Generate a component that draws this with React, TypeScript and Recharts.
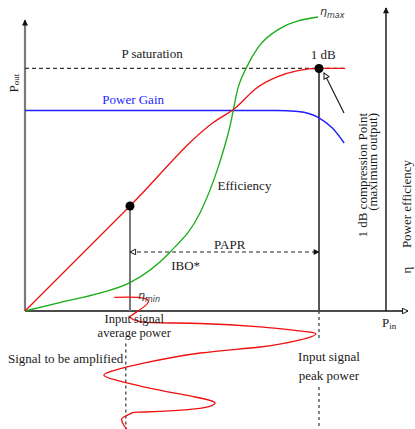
import React from "react";
import { LineChart, Line, XAxis, YAxis, ReferenceLine, ReferenceDot } from "recharts";

// Input power in arbitrary dB-like units, 0 at the axes origin
const AVG_IN = 10;
const PEAK_IN = 28;
const P_SAT = 23.1;

// output power vs input power
const poutIn = [0, 10, 18, 20, 22, 24, 26, 28, 30.5];
const poutVal = [0, 10, 18, 19.3, 21.2, 22.3, 22.9, 23.1, 23.1];

// power gain vs input power
const gainIn = [0, 24, 26, 28, 29.3, 30.4];
const gainVal = [19.1, 19.1, 19.0, 18.4, 17.4, 16.0];

// drain efficiency vs input power
const effIn = [0, 3.3, 7.1, 10, 13.8, 16.7, 18.4, 19.5, 20.3, 21.1, 22.2, 24.1, 27.9];
const effVal = [0, 0.8, 1.7, 2.7, 5.6, 9.4, 13.7, 17.5, 21.3, 23.2, 25.1, 26.8, 28.0];

// instantaneous level of the signal to be amplified, time running downwards
const sigLevel = [8.5, 10.8, 11.7, 10.2, 10.1, 11.4, 16.7, 22.4, 26.2, 27.7, 26.2, 22.4, 16.7, 11.4, 8.6, 7.5, 8.6, 11.4, 16.2, 18.1, 16.2, 11.4, 10.2, 9.4, 9.2, 9.4, 9.7];
const sigTime = [1.3, 1.29, 0.76, -0.38, -0.67, -1.05, -1.19, -1.52, -1.9, -2.19, -2.76, -3.43, -4.0, -4.95, -5.62, -6.1, -6.57, -7.24, -8.19, -8.76, -9.33, -9.62, -9.71, -10.1, -10.38, -10.86, -11.24];

const X_DOMAIN = [-2.381, 37.143];
const Y_DOMAIN = [-11.238, 29.619];
const RIGHT_AXIS = 34.38;

const SERIF = "'Liberation Serif', 'Times New Roman', serif";
const INK = "#1a1a1a";

const pts = (xs: number[], ys: number[]) => xs.map((x, i) => ({ x, y: ys[i] }));

// line with optional arrow markers at either end
const arrowLine = (start?: string, end?: string) => (p: any) => (
  <line
    x1={p.x1} y1={p.y1} x2={p.x2} y2={p.y2}
    stroke={p.stroke} strokeWidth={p.strokeWidth} strokeDasharray={p.strokeDasharray}
    markerStart={start ? `url(#${start})` : undefined}
    markerEnd={end ? `url(#${end})` : undefined}
  />
);

function seg(key: string, a: [number, number], b: [number, number], stroke: string, width: number,
  dash?: string, start?: string, end?: string) {
  return (
    <ReferenceLine
      key={key}
      segment={[{ x: a[0], y: a[1] }, { x: b[0], y: b[1] }]}
      stroke={stroke}
      strokeWidth={width}
      strokeDasharray={dash}
      shape={arrowLine(start, end)}
    />
  );
}

// free text placed at a data position
function note(key: string, x: number, y: number, render: (cx: number, cy: number) => React.ReactNode) {
  return (
    <ReferenceDot
      key={key}
      x={x}
      y={y}
      r={0}
      fill="none"
      stroke="none"
      label={{ content: (p: any) => render(p.viewBox.x, p.viewBox.y) }}
    />
  );
}

const txt = (s: string, opts: { anchor?: string; fill?: string; size?: number } = {}) =>
  (cx: number, cy: number) => (
    <text x={cx} y={cy} textAnchor={opts.anchor ?? "middle"} dominantBaseline="central"
      fontFamily={SERIF} fontSize={opts.size ?? 13} fill={opts.fill ?? INK}>
      {s}
    </text>
  );

const rot = (s: string, anchor = "middle") => (cx: number, cy: number) => (
  <text x={cx} y={cy} textAnchor={anchor} dominantBaseline="central"
    fontFamily={SERIF} fontSize={13} fill={INK} transform={`rotate(-90, ${cx}, ${cy})`}>
    {s}
  </text>
);

const eta = (sub: string) => (cx: number, cy: number) => (
  <text x={cx} y={cy} dominantBaseline="central" fontFamily="'DejaVu Sans', sans-serif"
    fontStyle="italic" fontSize={11} fill="#333">
    η<tspan fontSize={8} dy={3}>{sub}</tspan>
  </text>
);

function Markers() {
  return (
    <svg width={0} height={0} style={{ position: "absolute" }}>
      <defs>
        <marker id="tri" viewBox="0 0 10 10" refX="9" refY="5" markerWidth="7" markerHeight="6"
          markerUnits="userSpaceOnUse" orient="auto-start-reverse">
          <path d="M0,0 L10,5 L0,10 z" fill="#111" />
        </marker>
        <marker id="open" viewBox="0 0 10 10" refX="9" refY="5" markerWidth="8" markerHeight="7"
          markerUnits="userSpaceOnUse" orient="auto-start-reverse">
          <path d="M1,1 L9,5 L1,9 z" fill="#fff" stroke="#111" strokeWidth={1.4} />
        </marker>
      </defs>
    </svg>
  );
}

export default function App() {
  return (
    <div style={{ position: "absolute", left: 0, top: 0, width: 415, height: 429, background: "#fff" }}>
      <Markers />
      <LineChart width={415} height={429} margin={{ top: 0, right: 0, bottom: 0, left: 0 }}>
        <XAxis type="number" dataKey="x" domain={X_DOMAIN} allowDataOverflow hide />
        <YAxis type="number" domain={Y_DOMAIN} allowDataOverflow hide />

        {/* axes */}
        {seg("yaxis", [0, 0], [0, 27.71], "#7a7a7a", 2.2, undefined, undefined, "tri")}
        {seg("xaxis", [0, 0], [36.48, 0], "#111", 1.5, undefined, undefined, "open")}
        {seg("eaxis", [RIGHT_AXIS, 0], [RIGHT_AXIS, 28.86], "#111", 1.4, undefined, undefined, "tri")}

        {/* saturation level */}
        {seg("psat", [0, P_SAT], [30.48, P_SAT], "#333", 1.2, "4 3")}

        {/* drop lines from the operating points */}
        {seg("avg", [AVG_IN, 0], [AVG_IN, 10], "#7a7a7a", 2)}
        {seg("peak", [PEAK_IN, 0], [PEAK_IN, P_SAT], "#444", 1.8)}

        {/* guides below the axis */}
        {seg("avgGuide", [9.6, -3.1], [9.6, -11.238], "#444", 1.3, "3 3")}
        {seg("peakGuide1", [PEAK_IN, 0], [PEAK_IN, -2.76], "#444", 1.3, "3 3")}
        {seg("peakGuide2", [PEAK_IN, -7.24], [PEAK_IN, -11.238], "#444", 1.3, "3 3")}

        {/* back-off span */}
        {seg("papr", [AVG_IN, 5.62], [PEAK_IN, 5.62], "#222", 1.2, "4 3", "open", "tri")}

        {/* pointer to the compression point */}
        {seg("p1db", [30.38, 18.86], [28.48, 22.67], "#111", 1.1, undefined, undefined, "open")}

        <Line data={pts(gainIn, gainVal)} dataKey="y" type="monotone" stroke="#1f1fff" strokeWidth={1.4}
          dot={false} activeDot={false} isAnimationActive={false} />
        <Line data={pts(effIn, effVal)} dataKey="y" type="monotone" stroke="#17ad17" strokeWidth={1.3}
          dot={false} activeDot={false} isAnimationActive={false} />
        <Line data={pts(poutIn, poutVal)} dataKey="y" type="monotone" stroke="#f01010" strokeWidth={1.3}
          dot={false} activeDot={false} isAnimationActive={false} />
        <Line data={pts(sigLevel, sigTime)} dataKey="y" type="natural" stroke="#f01010" strokeWidth={1.3}
          dot={false} activeDot={false} isAnimationActive={false} />

        <ReferenceDot x={AVG_IN} y={10} r={4.5} fill="#000" stroke="none" />
        <ReferenceDot x={PEAK_IN} y={P_SAT} r={4.5} fill="#000" stroke="none" />

        {note("psatL", 12.1, 24.5, txt("P saturation"))}
        {note("gainL", 10.3, 20.1, txt("Power Gain", { fill: "#1f1fff" }))}
        {note("effL", 20.9, 12.0, txt("Efficiency"))}
        {note("paprL", 19.5, 6.38, txt("PAPR"))}
        {note("iboL", 15.3, 4.38, txt("IBO*"))}
        {note("db1L", 28.4, 24.4, txt("1 dB"))}
        {note("avgL1", 10.4, -0.8, txt("Input signal", { size: 12.5 }))}
        {note("avgL2", 10.4, -2.14, txt("average power", { size: 12.5 }))}
        {note("sigL", -1.62, -4.48, txt("Signal to be amplified", { anchor: "start" }))}
        {note("pkL1", 28.95, -4.38, txt("Input signal"))}
        {note("pkL2", 28.95, -6.1, txt("peak power"))}
        {note("pinL", 34.0, -1.14, (cx, cy) => (
          <text x={cx} y={cy} dominantBaseline="central" fontFamily={SERIF} fontSize={13} fill={INK}>
            P<tspan fontSize={9} dy={3}>in</tspan>
          </text>
        ))}
        {note("poutL", -1.14, 21.71, (cx, cy) => (
          <text x={cx} y={cy} textAnchor="middle" dominantBaseline="central" fontFamily={SERIF}
            fontSize={13} fill={INK} transform={`rotate(-90, ${cx}, ${cy})`}>
            P<tspan fontSize={9} dy={3}>out</tspan>
          </text>
        ))}
        {note("cmpL1", 32.1, 18.86, rot("1 dB compression Point", "end"))}
        {note("cmpL2", 33.14, 18.86, rot("(maximum output)", "end"))}
        {note("peffL", 36.38, 10.19, rot("Power efficiency"))}
        {note("etaL", 36.38, 3.9, rot("η"))}
        {note("etaMax", 28.1, 28.48, eta("max"))}
        {note("etaMin", 10.76, 1.43, eta("min"))}
      </LineChart>
    </div>
  );
}
